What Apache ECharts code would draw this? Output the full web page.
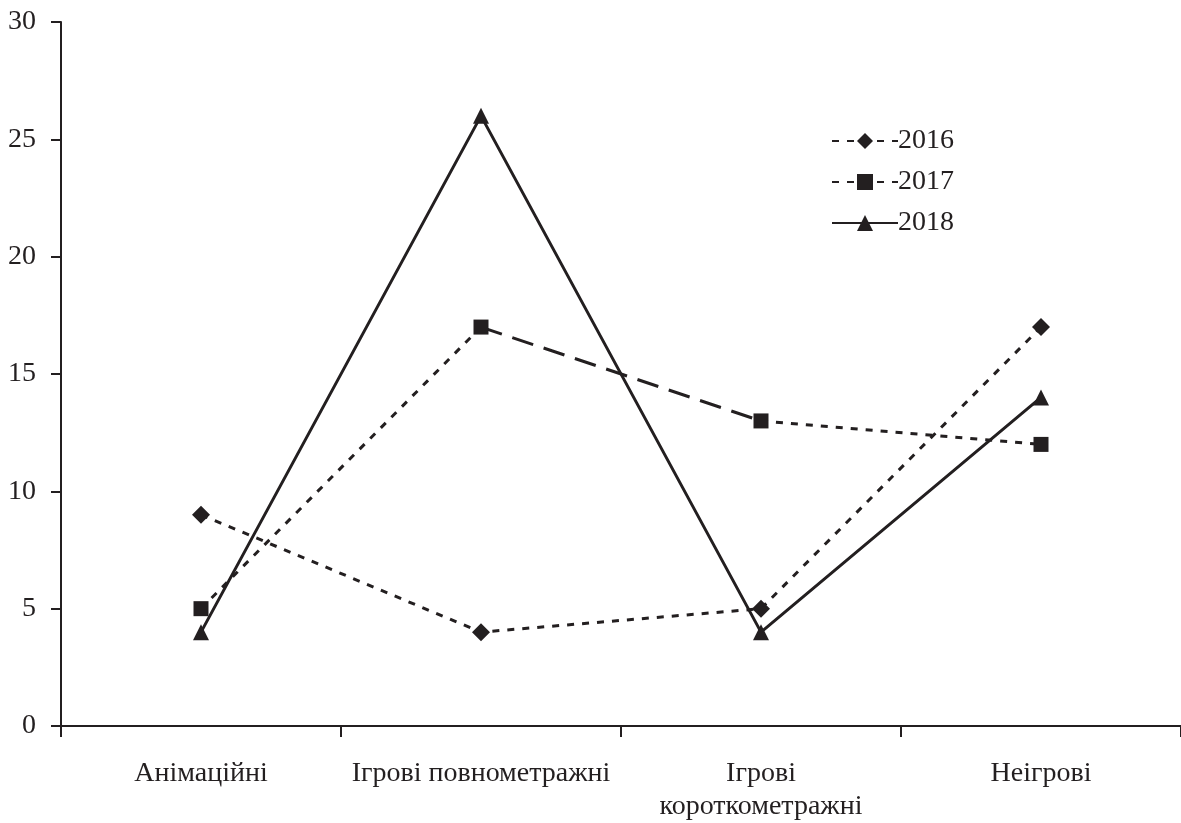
<!DOCTYPE html>
<html><head><meta charset="utf-8">
<script src="https://cdn.jsdelivr.net/npm/echarts@6/dist/echarts.min.js"></script>
<style>html,body{margin:0;padding:0;background:#fff}#c{width:1181px;height:823px}</style>
</head><body><div id="c"></div>
<script>
const categories = ['Анімаційні', 'Ігрові повнометражні', 'Ігрові\nкороткометражні', 'Неігрові'];
const s2016 = [9, 4, 5, 17];
const s2017 = [5, 17, 13, 12];
const s2018 = [4, 26, 4, 14];
const yTicks = { min: 0, max: 30, interval: 5 };

const ink = '#231f20';
const font = 'Liberation Serif';
const chart = echarts.init(document.getElementById('c'), null, { renderer: 'canvas' });

// 2017: dotted outer segments, long-dashed middle segment
const d2017dotted = [[0, s2017[0]], [1, s2017[1]], '-', [2, s2017[2]], [3, s2017[3]]];
const d2017dashed = [[1, s2017[1]], [2, s2017[2]]];

chart.setOption({
  animation: false,
  backgroundColor: '#fff',
  grid: { left: 61, right: 0, top: 22, bottom: 96, containLabel: false },
  legend: {
    left: 826, top: 122, orient: 'vertical', itemGap: 13, itemWidth: 66, itemHeight: 20,
    textStyle: { fontFamily: font, fontSize: 28, color: ink, padding: [0, 0, 0, -5] },
    data: ['2016', '2017', '2018']
  },
  xAxis: {
    type: 'category', data: categories, boundaryGap: true,
    axisLine: { lineStyle: { color: ink, width: 2 } },
    axisTick: { show: true, length: 11, lineStyle: { color: ink, width: 2 } },
    axisLabel: { fontFamily: font, fontSize: 28, color: ink, margin: 31, lineHeight: 33, interval: 0 },
    splitLine: { show: false }
  },
  yAxis: {
    type: 'value', min: yTicks.min, max: yTicks.max, interval: yTicks.interval,
    axisLine: { show: true, lineStyle: { color: ink, width: 2 } },
    axisTick: { show: true, length: 10, lineStyle: { color: ink, width: 2 } },
    axisLabel: { fontFamily: font, fontSize: 28, color: ink, margin: 25 },
    splitLine: { show: false }
  },
  series: [
    {
      name: '2016', type: 'line', data: s2016, symbol: 'diamond', symbolSize: 18,
      itemStyle: { color: ink }, lineStyle: { color: ink, width: 3, type: [7, 8] }, z: 3
    },
    {
      name: '2017', type: 'line', data: d2017dotted, symbol: 'rect', symbolSize: 15,
      connectNulls: false,
      itemStyle: { color: ink }, lineStyle: { color: ink, width: 3, type: [7, 8] }, z: 3
    },
    {
      name: '2017 ', type: 'line', data: d2017dashed, symbol: 'none', legendHoverLink: false,
      lineStyle: { color: ink, width: 3, type: [22, 11] }, z: 2, silent: true
    },
    {
      name: '2018', type: 'line', data: s2018, symbol: 'triangle', symbolSize: 16,
      itemStyle: { color: ink }, lineStyle: { color: ink, width: 3, type: 'solid' }, z: 4
    }
  ]
});
</script></body></html>
